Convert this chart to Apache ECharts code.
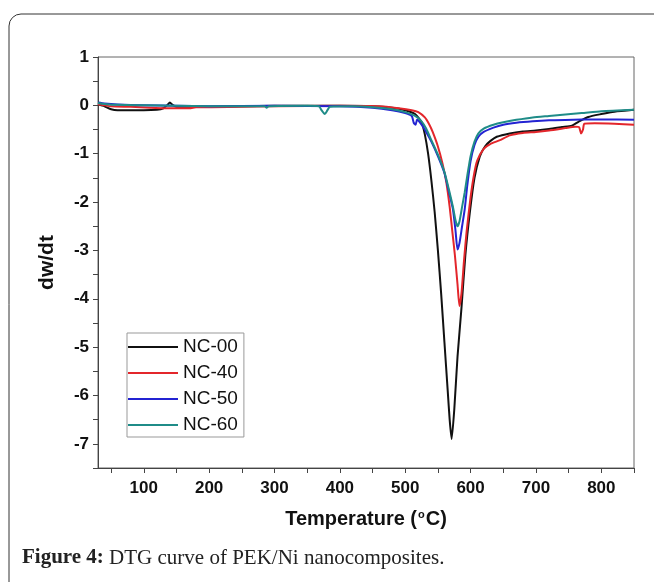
<!DOCTYPE html>
<html>
<head>
<meta charset="utf-8">
<script src="https://cdn.jsdelivr.net/npm/echarts@6/dist/echarts.min.js"></script>
<style>html,body{margin:0;padding:0;background:#fff;}#c{width:654px;height:582px;}</style>
</head>
<body>
<div id="c"></div>
<script>
var seriesNames = ['NC-00', 'NC-40', 'NC-50', 'NC-60'];
var seriesColors = ['#111111', '#e3262b', '#2323d2', '#1f8c88'];

var nc00 = [[30,0.02],[40,-0.02],[50,-0.08],[60,-0.1],[80,-0.1],[100,-0.1],[120,-0.09],[130,-0.06],[137,0.02],[140,0.06],[144,0.01],[150,-0.03],[200,-0.03],[300,-0.01],[400,-0.01],[450,-0.02],[480,-0.05],[500,-0.1],[515,-0.18],[525,-0.35],[530,-0.6],[535,-1.0],[540,-1.55],[545,-2.2],[550,-3.0],[555,-3.9],[560,-4.9],[565,-5.9],[568,-6.5],[571,-6.9],[575,-6.3],[580,-5.2],[586,-4.2],[592,-3.1],[599,-2.2],[606,-1.5],[614,-1.06],[622,-0.85],[630,-0.74],[640,-0.65],[660,-0.58],[680,-0.54],[700,-0.52],[720,-0.49],[740,-0.45],[755,-0.42],[765,-0.34],[780,-0.24],[800,-0.18],[820,-0.13],[850,-0.09]];

var nc40 = [[30,0.02],[50,-0.02],[80,-0.03],[110,-0.05],[130,-0.06],[170,-0.06],[180,-0.04],[250,-0.03],[300,-0.02],[400,-0.01],[460,-0.02],[490,-0.06],[510,-0.1],[520,-0.14],[530,-0.25],[537,-0.4],[542,-0.55],[550,-0.85],[557,-1.2],[563,-1.6],[568,-2.1],[572,-2.6],[576,-3.1],[580,-3.7],[583,-4.15],[586,-3.9],[590,-3.2],[594,-2.6],[600,-1.9],[605,-1.45],[610,-1.15],[620,-0.9],[630,-0.8],[645,-0.72],[660,-0.62],[680,-0.57],[700,-0.55],[720,-0.52],[745,-0.47],[760,-0.44],[766,-0.45],[769,-0.58],[772,-0.5],[774,-0.38],[790,-0.37],[820,-0.38],[850,-0.4]];

var nc50 = [[30,0.06],[40,0.04],[60,0.02],[100,0.0],[150,-0.01],[200,-0.02],[300,-0.01],[400,-0.02],[450,-0.05],[480,-0.1],[500,-0.16],[510,-0.22],[513,-0.36],[516,-0.4],[518,-0.3],[525,-0.4],[532,-0.55],[540,-0.75],[550,-1.05],[560,-1.4],[567,-1.8],[573,-2.15],[577,-2.6],[580,-2.98],[583,-2.85],[587,-2.5],[591,-2.15],[595,-1.65],[600,-1.15],[606,-0.82],[612,-0.65],[620,-0.55],[635,-0.46],[650,-0.4],[670,-0.36],[695,-0.33],[720,-0.31],[770,-0.29],[800,-0.29],[850,-0.3]];

var nc60 = [[30,0.05],[40,0.03],[60,0.01],[100,0.0],[150,-0.01],[200,-0.02],[285,-0.02],[288,-0.05],[291,-0.02],[350,-0.01],[368,-0.02],[372,-0.1],[377,-0.18],[381,-0.1],[385,-0.03],[420,-0.02],[450,-0.04],[480,-0.08],[500,-0.14],[515,-0.22],[525,-0.33],[532,-0.48],[540,-0.72],[550,-1.02],[560,-1.38],[567,-1.75],[573,-2.1],[577,-2.38],[580,-2.5],[583,-2.4],[587,-2.1],[591,-1.8],[595,-1.45],[600,-1.05],[606,-0.75],[612,-0.58],[620,-0.48],[635,-0.4],[650,-0.35],[670,-0.3],[695,-0.25],[720,-0.22],[770,-0.16],[800,-0.12],[850,-0.09]];

var xTickValues = [50,100,150,200,250,300,350,400,450,500,550,600,650,700,750,800,850];
var xLabelValues = [100,200,300,400,500,600,700,800];
var xName = 'Temperature (';
var yName = 'dw/dt';
var caption = 'DTG curve of PEK/Ni nanocomposites.';
var captionLead = 'Figure 4:';

var allData = [nc00, nc40, nc50, nc60];

var chart = echarts.init(document.getElementById('c'), null, {renderer: 'canvas'});
var axisFont = 'Liberation Sans, Arial, sans-serif';
var serifFont = 'Liberation Serif, Times New Roman, serif';

chart.setOption({
  animation: false,
  backgroundColor: '#ffffff',
  grid: {left: 98, top: 57, right: 20, bottom: 114, show: true, borderColor: '#666', borderWidth: 1, backgroundColor: 'transparent'},
  legend: {
    orient: 'vertical', left: 127, top: 333,
    data: seriesNames.map(function(n){ return {name: n, icon: 'rect'}; }),
    itemWidth: 50, itemHeight: 2, itemGap: 6,
    padding: [4, 6, 2, 1],
    borderColor: '#999', borderWidth: 1, backgroundColor: '#fff',
    textStyle: {fontFamily: axisFont, fontSize: 19, color: '#111', lineHeight: 20}
  },
  xAxis: {
    type: 'value', min: 30, max: 850,
    name: '{n|' + xName + '}{s|o}{n|C)}',
    nameLocation: 'middle', nameGap: 41,
    nameTextStyle: {rich: {
      n: {fontFamily: axisFont, fontSize: 20, fontWeight: 'bold', color: '#111'},
      s: {fontFamily: axisFont, fontSize: 11, fontWeight: 'bold', color: '#111', verticalAlign: 'top', padding: [0,1,10,1]}
    }},
    axisLine: {show: true, onZero: false, lineStyle: {color: '#444', width: 1}},
    axisTick: {show: true, inside: false, length: 5, customValues: xTickValues, lineStyle: {color: '#444'}},
    axisLabel: {customValues: xLabelValues, margin: 12, fontFamily: axisFont, fontSize: 17, fontWeight: 'bold', color: '#111'},
    splitLine: {show: false}
  },
  yAxis: {
    type: 'value', min: -7.5, max: 1, interval: 0.5,
    name: yName, nameLocation: 'middle', nameGap: 40, nameRotate: 90,
    nameTextStyle: {fontFamily: axisFont, fontSize: 21, fontWeight: 'bold', color: '#111'},
    axisLine: {show: true, onZero: false, lineStyle: {color: '#444', width: 1}},
    axisTick: {show: true, inside: false, length: 5, lineStyle: {color: '#444'}},
    axisLabel: {margin: 9, fontFamily: axisFont, fontSize: 17, fontWeight: 'bold', color: '#111',
      formatter: function(v){ return Math.abs(v - Math.round(v)) < 1e-9 ? String(Math.round(v)) : ''; }},
    splitLine: {show: false}
  },
  series: allData.map(function(d, i){
    return {
      name: seriesNames[i], type: 'line', data: d, showSymbol: false,
      smooth: 0.2,
      lineStyle: {color: seriesColors[i], width: 2, join: 'round'},
      itemStyle: {color: seriesColors[i]}
    };
  }),
  graphic: [
    {type: 'rect', shape: {x: 9, y: 14, width: 720, height: 620, r: 12}, style: {fill: 'none', stroke: '#333', lineWidth: 1}, silent: true, z: 100},
    {type: 'text', x: 22, y: 558, silent: true, z: 100,
      style: {text: '{b|' + captionLead + '} ' + caption, fontFamily: serifFont, fontSize: 21, fill: '#222', verticalAlign: 'middle',
        rich: {b: {fontFamily: serifFont, fontSize: 21, fontWeight: 'bold', fill: '#222'}}}}
  ]
});
</script>
</body>
</html>
